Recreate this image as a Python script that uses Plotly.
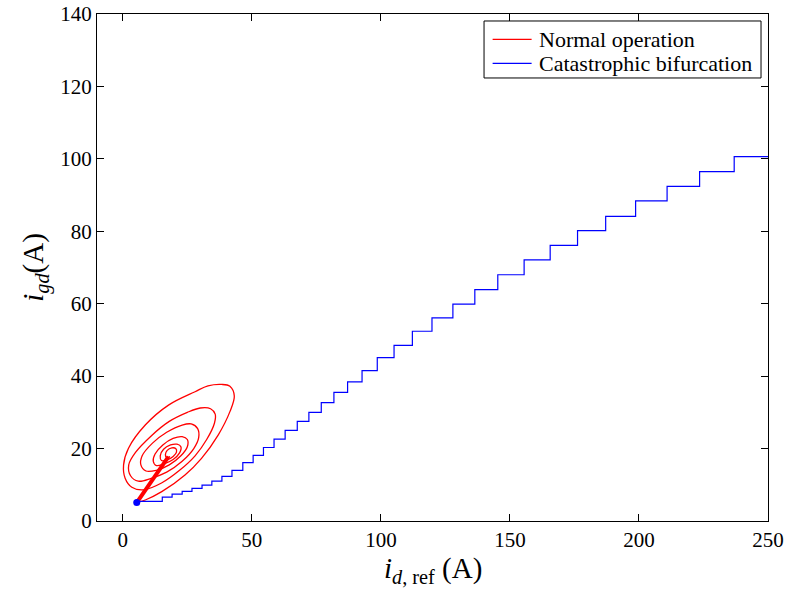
import plotly.graph_objects as go

# ---- Data ----
# Blue staircase: x where each level starts, and the level value
stair_x = [5.4, 15.3, 19.1, 23.0, 26.8, 30.7, 34.5, 38.4, 42.3, 46.5, 50.5,
           54.5, 58.6, 62.9, 67.6, 72.1, 76.9, 81.8, 87.1, 92.7, 98.6,
           105.1, 112.2, 119.8, 127.9, 136.4, 145.3, 155.5, 165.6, 176.2,
           187.1, 198.7, 210.9, 223.5, 236.9, 250.0]
stair_y = [5.4, 6.6, 7.4, 8.2, 9.0, 9.9, 11.0, 12.3, 14.0, 16.1, 18.1,
           20.3, 22.6, 25.0, 27.5, 30.0, 32.7, 35.5, 38.4, 41.5, 45.1,
           48.5, 52.4, 56.1, 59.9, 63.9, 68.0, 72.1, 76.1, 80.2,
           84.1, 88.4, 92.4, 96.5, 100.6, 100.6]

# Red spiral (normal operation), traced loop by loop
spiral_x = [5.4, 8.7, 15.1, 24.1, 30.5, 37.0, 41.5, 43.2, 41.5, 38.3, 33.0, 28.0, 17.7, 8.7, 2.2, 0.3, 0.9, 3.5,
            8.0, 15.0, 22.0, 28.0, 32.5, 35.5, 35.8, 34.0, 30.0, 25.0, 18.0, 11.0, 5.0, 2.3, 3.0, 6.0,
            11.0, 17.0, 23.0, 27.5, 29.4, 29.0, 26.5, 23.0, 17.0, 11.5, 7.5, 7.0, 9.0,
            13.0, 18.0, 22.5, 25.0, 25.0, 23.0, 19.5, 15.5, 12.5, 11.8, 13.0,
            16.0, 19.5, 22.0, 22.5, 21.0, 18.5, 15.8, 14.5, 15.0,
            17.0, 19.5, 20.8, 20.5, 19.0, 17.2, 16.5, 17.0, 18.3]
spiral_y = [5.1, 5.8, 8.1, 12.7, 17.3, 23.8, 30.2, 34.5, 37.2, 37.7, 37.3, 35.7, 32.0, 26.5, 20.1, 15.5, 11.8, 9.3,
            8.6, 10.5, 14.0, 18.0, 22.5, 27.0, 29.5, 31.0, 31.2, 30.0, 27.5, 23.5, 19.0, 15.5, 12.5, 11.0,
            11.8, 13.5, 16.5, 20.0, 23.0, 25.5, 26.8, 26.5, 24.5, 21.5, 18.0, 15.5, 13.8,
            14.0, 15.5, 18.0, 20.5, 22.5, 23.3, 22.8, 21.0, 18.5, 16.5, 15.3,
            15.8, 17.0, 18.8, 20.5, 21.2, 21.0, 19.8, 18.0, 16.7,
            16.8, 17.8, 19.0, 20.0, 20.2, 19.5, 18.3, 17.5, 17.8]

# Initial transient (thick red segment) and start point
transient_x = [5.4, 17.7]
transient_y = [5.1, 17.8]
start_x = [5.4]
start_y = [5.1]

x_ticks = [0, 50, 100, 150, 200, 250]
y_ticks = [0, 20, 40, 60, 80, 100, 120, 140]

legend_names = ["Normal operation", "Catastrophic bifurcation"]
legend_colors = ["#ff0000", "#0000ff"]

FONT = "Liberation Serif"

fig = go.Figure()
fig.add_trace(go.Scatter(x=spiral_x, y=spiral_y, mode="lines",
                         line=dict(color=legend_colors[0], width=1.3, shape="spline", smoothing=1.0),
                         name=legend_names[0], showlegend=False))
fig.add_trace(go.Scatter(x=transient_x, y=transient_y, mode="lines",
                         line=dict(color=legend_colors[0], width=4), showlegend=False))
fig.add_trace(go.Scatter(x=stair_x, y=stair_y, mode="lines",
                         line=dict(color=legend_colors[1], width=1.2, shape="hv"),
                         name=legend_names[1], showlegend=False))
fig.add_trace(go.Scatter(x=start_x, y=start_y, mode="markers",
                         marker=dict(color=legend_colors[1], size=7), showlegend=False))

axis_common = dict(showline=True, linecolor="black", linewidth=1, mirror="allticks",
                   ticks="inside", ticklen=7, tickcolor="black", showgrid=False,
                   zeroline=False, automargin=False,
                   tickfont=dict(family=FONT, size=21, color="black"))

fig.update_xaxes(range=[-10, 250], tickvals=x_ticks, **axis_common)
fig.update_yaxes(range=[0, 140], tickvals=y_ticks,
                 title=dict(text="<i>i</i><sub><i>gd</i></sub>(A)",
                            font=dict(family=FONT, size=29, color="black"), standoff=8),
                 **axis_common)

# MATLAB-style legend box (paper coordinates)
shapes = [dict(type="rect", xref="paper", yref="paper", x0=0.5768, x1=0.9896,
               y0=0.8738, y1=0.9862, line=dict(color="black", width=1), fillcolor="white",
               layer="above")]
annotations = [dict(text="<i>i</i><sub><i>d</i>, ref</sub> (A)", xref="paper", yref="paper",
                    x=0.5, y=-0.058, xanchor="center", yanchor="top", showarrow=False,
                    font=dict(family=FONT, size=29, color="black"))]
row_y = [0.9501, 0.9028]
for name, color, yy in zip(legend_names, legend_colors, row_y):
    shapes.append(dict(type="line", xref="paper", yref="paper", x0=0.5896, x1=0.6477,
                       y0=yy, y1=yy, line=dict(color=color, width=1.2), layer="above"))
    annotations.append(dict(text=name, xref="paper", yref="paper", x=0.6557, y=yy,
                            xanchor="left", yanchor="middle", showarrow=False,
                            font=dict(family=FONT, size=22, color="black")))

fig.update_layout(
    width=787, height=594,
    margin=dict(l=97, r=19, t=14, b=73),
    plot_bgcolor="white", paper_bgcolor="white",
    font=dict(family=FONT, color="black"),
    shapes=shapes, annotations=annotations,
    showlegend=False,
)

fig.write_html("out.html")
